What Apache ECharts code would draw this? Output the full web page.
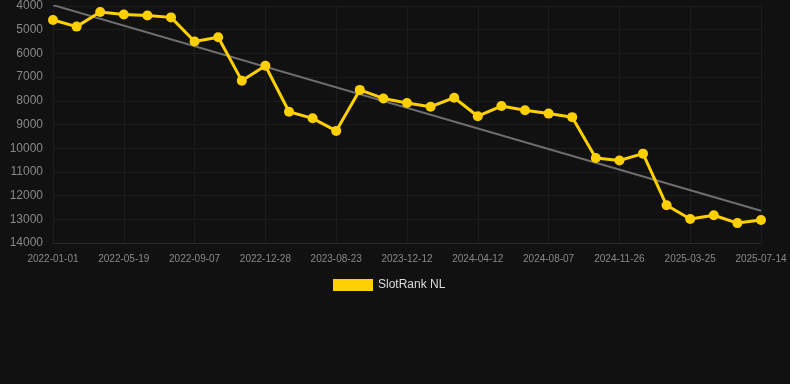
<!DOCTYPE html>
<html>
<head>
<meta charset="utf-8">
<script src="https://cdn.jsdelivr.net/npm/echarts@6/dist/echarts.min.js"></script>
<style>html,body{margin:0;padding:0;background:#111111;}#c{width:790px;height:384px;}</style>
</head>
<body>
<div id="c"></div>
<script>
var categories = ['2022-01-01','2022-02-15','2022-04-02','2022-05-19','2022-06-25','2022-08-01','2022-09-07','2022-10-20','2022-11-24','2022-12-28','2023-03-10','2023-05-30','2023-08-23','2023-09-28','2023-11-05','2023-12-12','2024-01-22','2024-03-02','2024-04-12','2024-05-22','2024-06-30','2024-08-07','2024-09-15','2024-10-20','2024-11-26','2025-01-05','2025-02-14','2025-03-25','2025-05-01','2025-06-08','2025-07-14'];
var rankValues = [4590,4870,4250,4360,4400,4480,5500,5320,7150,6520,8460,8740,9270,7540,7900,8090,8250,7870,8650,8220,8400,8540,8690,10410,10520,10230,12410,12990,12830,13160,13030];
var trendStart = 3960;
var trendEnd = 12640;
var yTicks = {min: 4000, max: 14000, interval: 1000};

var last = categories.length - 1;
var trendData = categories.map(function (c, i) {
  return i === 0 ? trendStart : (i === last ? trendEnd : null);
});

var chart = echarts.init(document.getElementById('c'));
chart.setOption({
  backgroundColor: '#111111',
  animation: false,
  grid: {left: 53, right: 29, top: 6, bottom: 141, containLabel: false},
  legend: {
    data: ['SlotRank NL'],
    top: 274,
    left: 328,
    itemWidth: 40,
    itemHeight: 12,
    icon: 'rect',
    textStyle: {color: '#dddddd', fontSize: 12, fontFamily: 'Arial, Liberation Sans, sans-serif'}
  },
  xAxis: {
    type: 'category',
    data: categories,
    boundaryGap: false,
    axisLine: {lineStyle: {color: '#2a2a2a'}},
    axisTick: {show: false},
    axisLabel: {interval: 2, color: '#888888', fontSize: 10, margin: 11, fontFamily: 'Arial, Liberation Sans, sans-serif'},
    splitLine: {show: true, interval: 2, lineStyle: {color: '#1d1d1d'}}
  },
  yAxis: {
    type: 'value',
    inverse: true,
    min: yTicks.min,
    max: yTicks.max,
    interval: yTicks.interval,
    axisLine: {show: false},
    axisTick: {show: false},
    axisLabel: {color: '#888888', fontSize: 12, margin: 10, formatter: function (v) { return String(v); }, fontFamily: 'Arial, Liberation Sans, sans-serif'},
    splitLine: {lineStyle: {color: '#1d1d1d'}}
  },
  series: [{
    name: 'Trend',
    type: 'line',
    data: trendData,
    connectNulls: true,
    symbol: 'none',
    silent: true,
    lineStyle: {color: '#6e6e6e', width: 2},
    z: 2
  }, {
    name: 'SlotRank NL',
    type: 'line',
    data: rankValues,
    symbol: 'circle',
    symbolSize: 10,
    itemStyle: {color: '#ffd000'},
    lineStyle: {color: '#ffd000', width: 3},
    z: 3
  }]
});
</script>
</body>
</html>
